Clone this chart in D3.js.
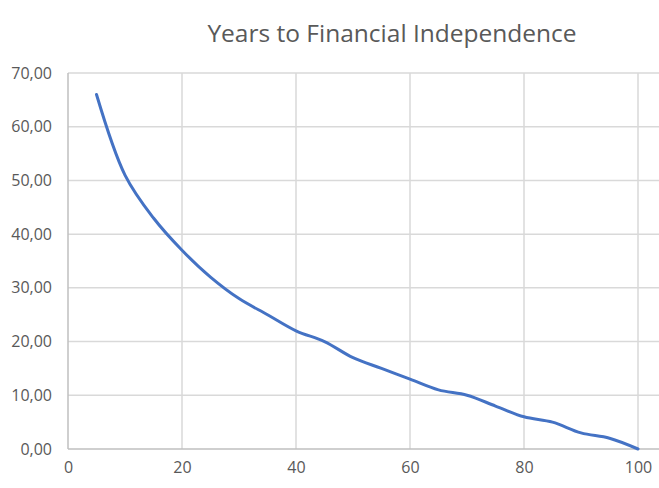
<!DOCTYPE html>
<html>
<head>
<meta charset="utf-8">
<script src="https://cdn.jsdelivr.net/npm/d3@7"></script>
<style>
html,body{margin:0;padding:0;background:#fff;}
svg{display:block;}
</style>
</head>
<body>
<svg id="chart" width="659" height="488"></svg>
<script>
const savingsRate = [5,10,15,20,25,30,35,40,45,50,55,60,65,70,75,80,85,90,95,100];
const yearsToFI   = [66,51,43,37,32,28,25,22,20,17,15,13,11,10,8,6,5,3,2,0];
const xTicks = [0,20,40,60,80,100];
const yTicks = [0,10,20,30,40,50,60,70];
const title = "Years to Financial Independence";

const svg = d3.select("#chart");
const W = 659, H = 488;
const x = d3.scaleLinear().domain([0,120]).range([68,752]);
const y = d3.scaleLinear().domain([0,70]).range([449,73]);
const fmt = v => d3.format(".2f")(v).replace(".", ",");

// horizontal gridlines
svg.append("g").selectAll("line").data(yTicks.filter(d=>d>0)).join("line")
  .attr("x1", x(0)).attr("x2", W)
  .attr("y1", d=>y(d)).attr("y2", d=>y(d))
  .attr("stroke", "#d9d9d9").attr("stroke-width", 1.5);
// vertical gridlines
svg.append("g").selectAll("line").data(xTicks.filter(d=>d>0)).join("line")
  .attr("x1", d=>x(d)).attr("x2", d=>x(d))
  .attr("y1", y(70)).attr("y2", y(0))
  .attr("stroke", "#d9d9d9").attr("stroke-width", 1.5);

// axis lines
svg.append("line").attr("x1", x(0)).attr("x2", x(0)).attr("y1", y(70)).attr("y2", y(0))
  .attr("stroke", "#bfbfbf").attr("stroke-width", 1.5);
svg.append("line").attr("x1", x(0)).attr("x2", W).attr("y1", y(0)).attr("y2", y(0))
  .attr("stroke", "#bfbfbf").attr("stroke-width", 1.5);

// y tick labels
const yAxis = d3.axisLeft(y).tickValues(yTicks).tickFormat(fmt).tickSize(0).tickPadding(16);
const gy = svg.append("g").attr("transform", `translate(${x(0)},0)`).call(yAxis);
gy.select(".domain").remove();
gy.selectAll("text").attr("fill", "#595959").style("font-family", "'Open Sans', sans-serif").style("font-size", "16px");

// x tick labels
const xAxis = d3.axisBottom(x).tickValues(xTicks).tickSize(0).tickPadding(13);
const gx = svg.append("g").attr("transform", `translate(0,${y(0)})`).call(xAxis);
gx.select(".domain").remove();
gx.selectAll("text").attr("fill", "#595959").style("font-family", "'Open Sans', sans-serif").style("font-size", "16px");

// series line
const pts = savingsRate.map((s,i)=>[s, yearsToFI[i]]);
const line = d3.line().x(d=>x(d[0])).y(d=>y(d[1])).curve(d3.curveCatmullRom.alpha(0.5));
svg.append("path").datum(pts).attr("d", line)
  .attr("fill", "none").attr("stroke", "#4472c4").attr("stroke-width", 3)
  .attr("stroke-linecap", "round").attr("stroke-linejoin", "round");

// title
svg.append("text").attr("x", 392).attr("y", 42).attr("text-anchor", "middle")
  .attr("fill", "#595959").style("font-family", "'Open Sans', sans-serif").style("font-size", "24.5px")
  .text(title);
</script>
</body>
</html>
